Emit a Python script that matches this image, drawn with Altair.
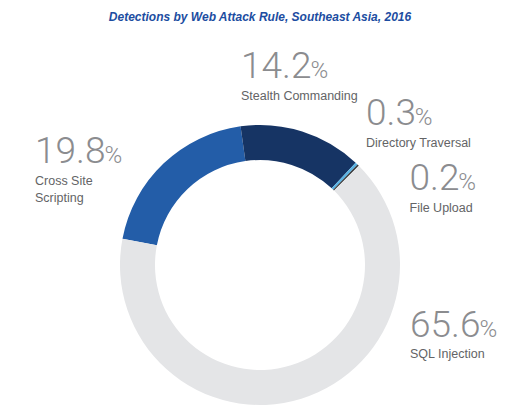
import math
import altair as alt
import pandas as pd

# ---- data ----
categories = ["Cross Site Scripting", "Stealth Commanding", "Directory Traversal", "File Upload", "SQL Injection"]
shares = [19.8, 14.2, 0.3, 0.2, 65.6]
label_texts = ["Cross Site\nScripting", "Stealth Commanding", "Directory Traversal", "File Upload", "SQL Injection"]
title_text = "Detections by Web Attack Rule, Southeast Asia, 2016"

# ---- styles / layout ----
colors = ["#235da8", "#163464", "#5ab4e6", "#3a3a3c", "#e4e5e7"]
label_x = [27, 233, 358, 401.5, 402]
num_baseline = [155.3, 70.3, 117, 182, 328.7]
LABEL_GAP = 21.7
NUM_SIZE = 37
PCT_SIZE = 24
NUM_FONT = "Roboto"
W, H = 514, 403
CX, CY = 252, 257
R_OUT, R_IN = 140, 105
START = math.radians(280.8)


def num_width(s, size):
    w = 0.0
    for ch in s:
        w += 0.2637 if ch == "." else 0.5615
    return w * size


nums = [f"{v:.1f}" for v in shares]
df = pd.DataFrame({
    "category": categories,
    "share": shares,
    "idx": list(range(len(categories))),
    "num": nums,
    "label": label_texts,
    "lx": label_x,
    "ny": num_baseline,
    "ly": [b + LABEL_GAP for b in num_baseline],
    "px": [x + num_width(n, NUM_SIZE) - 2.5 for x, n in zip(label_x, nums)],
    "pct": ["%"] * len(categories),
})

base = alt.Chart(df)

ring = base.mark_arc(innerRadius=R_IN, outerRadius=R_OUT).encode(
    theta=alt.Theta("share:Q", stack=True,
                    scale=alt.Scale(range=[START, START + 2 * math.pi])),
    color=alt.Color("category:N", scale=alt.Scale(domain=categories, range=colors), legend=None),
    order=alt.Order("idx:Q", sort="ascending"),
    x=alt.value(CX),
    y=alt.value(CY),
)

numbers = base.mark_text(align="left", baseline="alphabetic", font=NUM_FONT,
                         fontSize=NUM_SIZE, fontWeight=300, color="#8b8c8f").encode(
    x=alt.X("lx:Q", scale=None, axis=None),
    y=alt.Y("ny:Q", scale=None, axis=None),
    text="num:N",
)

pcts = base.mark_text(align="left", baseline="alphabetic", font=NUM_FONT,
                      fontSize=PCT_SIZE, fontWeight=300, color="#8b8c8f").encode(
    x=alt.X("px:Q", scale=None, axis=None),
    y=alt.Y("ny:Q", scale=None, axis=None),
    text="pct:N",
)

labels = base.mark_text(align="left", baseline="alphabetic", font="Liberation Sans",
                        fontSize=12.5, color="#636466", lineBreak="\n", lineHeight=16.5).encode(
    x=alt.X("lx:Q", scale=None, axis=None),
    y=alt.Y("ly:Q", scale=None, axis=None),
    text="label:N",
)

title = alt.Chart(pd.DataFrame({"t": [title_text]})).mark_text(
    align="center", baseline="alphabetic", font="Liberation Sans", fontSize=12,
    fontWeight="bold", fontStyle="italic", color="#1c4da1").encode(
    x=alt.value(252), y=alt.value(12.7), text="t:N")

chart = alt.layer(ring, numbers, pcts, labels, title).properties(
    width=W, height=H, padding=0, autosize="none", background="white"
).configure_view(stroke=None)

chart.save("out.html", embed_options={"renderer": "svg", "actions": False})
